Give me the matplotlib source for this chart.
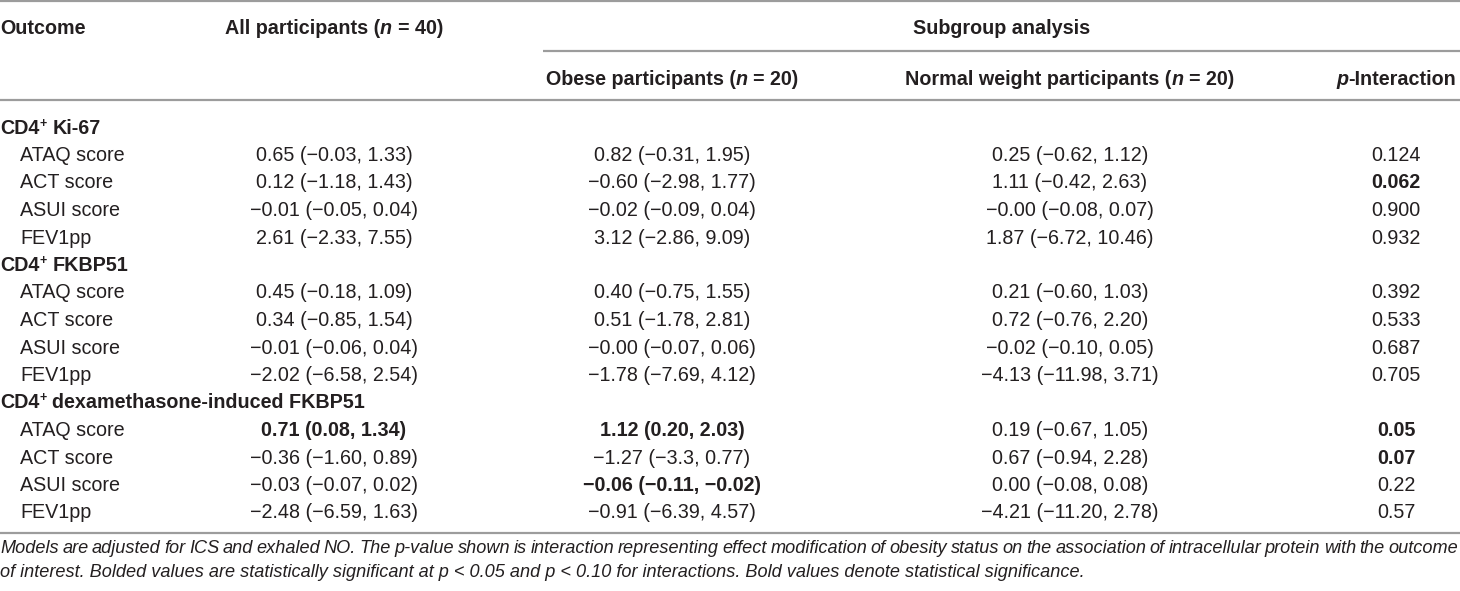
import matplotlib
matplotlib.use("Agg")
import matplotlib.pyplot as plt

plt.rcParams['font.family'] = ['Liberation Sans', 'DejaVu Sans']

# table content
groups = ["Ki-67", "FKBP51", "dexamethasone-induced FKBP51"]
outcomes = ["ATAQ score", "ACT score", "ASUI score", "FEV1pp"]

all_participants = [
    "0.65 (−0.03, 1.33)", "0.12 (−1.18, 1.43)", "−0.01 (−0.05, 0.04)", "2.61 (−2.33, 7.55)",
    "0.45 (−0.18, 1.09)", "0.34 (−0.85, 1.54)", "−0.01 (−0.06, 0.04)", "−2.02 (−6.58, 2.54)",
    "0.71 (0.08, 1.34)", "−0.36 (−1.60, 0.89)", "−0.03 (−0.07, 0.02)", "−2.48 (−6.59, 1.63)",
]
obese = [
    "0.82 (−0.31, 1.95)", "−0.60 (−2.98, 1.77)", "−0.02 (−0.09, 0.04)", "3.12 (−2.86, 9.09)",
    "0.40 (−0.75, 1.55)", "0.51 (−1.78, 2.81)", "−0.00 (−0.07, 0.06)", "−1.78 (−7.69, 4.12)",
    "1.12 (0.20, 2.03)", "−1.27 (−3.3, 0.77)", "−0.06 (−0.11, −0.02)", "−0.91 (−6.39, 4.57)",
]
normal_weight = [
    "0.25 (−0.62, 1.12)", "1.11 (−0.42, 2.63)", "−0.00 (−0.08, 0.07)", "1.87 (−6.72, 10.46)",
    "0.21 (−0.60, 1.03)", "0.72 (−0.76, 2.20)", "−0.02 (−0.10, 0.05)", "−4.13 (−11.98, 3.71)",
    "0.19 (−0.67, 1.05)", "0.67 (−0.94, 2.28)", "0.00 (−0.08, 0.08)", "−4.21 (−11.20, 2.78)",
]
p_interaction = ["0.124", "0.062", "0.900", "0.932",
                 "0.392", "0.533", "0.687", "0.705",
                 "0.05", "0.07", "0.22", "0.57"]

# indices of bold (significant) cells
bold_all = [8]
bold_obese = [8, 10]
bold_normal = []
bold_p = [1, 8, 9]

footnote_1 = ("Models are adjusted for ICS and exhaled NO. The p-value shown is interaction representing "
              "effect modification of obesity status on the association of intracellular protein with the outcome")
footnote_2 = ("of interest. Bolded values are statistically significant at p < 0.05 and p < 0.10 "
              "for interactions. Bold values denote statistical significance.")

W, H = 1460, 591
FS = 14.2
INK = "#231f20"
RULE = "#9c9c9c"

fig = plt.figure(figsize=(W / 100, H / 100), dpi=100)
ax = fig.add_axes([0, 0, 1, 1])
ax.set_xlim(0, W)
ax.set_ylim(H, 0)
ax.axis("off")
renderer = fig.canvas.get_renderer()


def text_width(s, **kw):
    t = ax.text(0, 0, s, fontsize=kw.get("size", FS), fontweight=kw.get("weight", "normal"),
                fontstyle=kw.get("style", "normal"))
    w = t.get_window_extent(renderer).width
    t.remove()
    return w


space_cache = {}


def space_width(**kw):
    key = (kw.get("size", FS), kw.get("weight", "normal"), kw.get("style", "normal"))
    if key not in space_cache:
        space_cache[key] = text_width("x x", **kw) - text_width("xx", **kw)
    return space_cache[key]


# draw a line of mixed-style runs: runs = [(text, {size, weight, style, rise})]
def draw_runs(x, y, runs, ha="left"):
    parts = []
    total = 0
    for s, kw in runs:
        core = s.strip(" ")
        lead = len(s) - len(s.lstrip(" "))
        trail = len(s) - len(s.rstrip(" "))
        sp = space_width(**kw)
        w = text_width(core, **kw) if core else 0
        parts.append((core, kw, total + lead * sp))
        total += lead * sp + w + trail * sp
    if ha == "center":
        x0 = x - total / 2
    elif ha == "right":
        x0 = x - total
    else:
        x0 = x
    for core, kw, off in parts:
        if core:
            ax.text(x0 + off, y - kw.get("rise", 0), core, fontsize=kw.get("size", FS),
                    fontweight=kw.get("weight", "normal"), fontstyle=kw.get("style", "normal"),
                    color=INK, ha="left", va="baseline")


B = {"weight": "bold"}
BI = {"weight": "bold", "style": "italic"}
N = {}

col_x = [0, 334, 672, 1070, 1396]
indent = 20

# rules
ax.hlines(1, 0, W, color=RULE, lw=1.6)
ax.hlines(51, 543, W, color=RULE, lw=1.6)
ax.hlines(100, 0, W, color=RULE, lw=1.6)
ax.hlines(533, 0, W, color=RULE, lw=1.6)

# header
draw_runs(col_x[0], 34, [("Outcome", B)])
draw_runs(col_x[1], 34, [("All participants (", B), ("n", BI), (" = 40)", B)], ha="center")
draw_runs((543 + W) / 2, 34, [("Subgroup analysis", B)], ha="center")
draw_runs(col_x[2], 85, [("Obese participants (", B), ("n", BI), (" = 20)", B)], ha="center")
draw_runs(col_x[3], 85, [("Normal weight participants (", B), ("n", BI), (" = 20)", B)], ha="center")
draw_runs(col_x[4], 85, [("p", BI), ("-Interaction", B)], ha="center")

# body
row_h = 27.5
base0 = 133.5
row = 0
for g, name in enumerate(groups):
    y = base0 + row * row_h
    draw_runs(col_x[0], y, [("CD4", B), ("+", {"weight": "bold", "size": 9, "rise": 7}), (" " + name, B)])
    row += 1
    for k, outcome in enumerate(outcomes):
        i = g * len(outcomes) + k
        y = base0 + row * row_h
        draw_runs(col_x[0] + indent, y, [(outcome, N)])
        draw_runs(col_x[1], y, [(all_participants[i], B if i in bold_all else N)], ha="center")
        draw_runs(col_x[2], y, [(obese[i], B if i in bold_obese else N)], ha="center")
        draw_runs(col_x[3], y, [(normal_weight[i], B if i in bold_normal else N)], ha="center")
        draw_runs(col_x[4], y, [(p_interaction[i], B if i in bold_p else N)], ha="center")
        row += 1

# footnote, first line justified to the full width
FN = {"style": "italic", "size": 13.1}
words = footnote_1.split(" ")
widths = [text_width(w, **FN) for w in words]
gap = (W - 2 - sum(widths)) / (len(words) - 1)
x = 0
for w, wd in zip(words, widths):
    ax.text(x, 553, w, fontsize=FN["size"], fontstyle="italic", color=INK, ha="left", va="baseline")
    x += wd + gap
ax.text(0, 577, footnote_2, fontsize=FN["size"], fontstyle="italic", color=INK, ha="left", va="baseline")

fig.savefig("out.png", dpi=100)
